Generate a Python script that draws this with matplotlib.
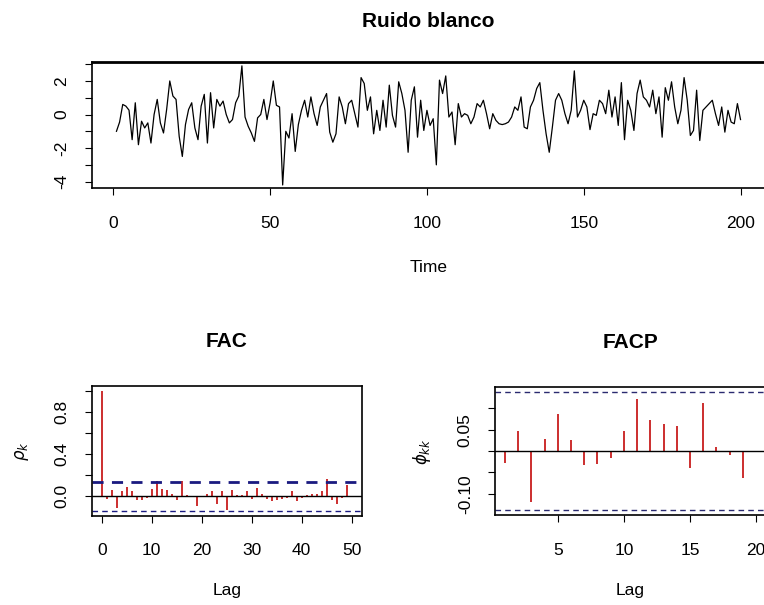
import numpy as np
import matplotlib
matplotlib.use("Agg")
import matplotlib.pyplot as plt

# ruido blanco, 200 observaciones
serie = [
    -1.0, -0.45, 0.6, 0.5, 0.26, -1.5, 0.7, -1.8, -0.4, -0.8,
    -0.5, -1.7, 0.0, 0.9, -0.5, -1.1, 0.3, 2.0, 1.1, 0.9,
    -1.3, -2.5, -0.6, 0.3, 0.7, -0.8, -1.5, 0.5, 1.2, -1.7,
    1.3, -0.8, 0.9, 0.5, 0.8, 0.0, -0.5, -0.3, 0.7, 1.1,
    2.9, -0.15, -0.7, -1.1, -1.6, -0.2, 0.0, 0.9, -0.3, 0.7,
    2.0, 0.55, 0.45, -4.2, -1.0, -1.4, 0.05, -2.2, -0.6, 0.25,
    0.85, -0.15, 1.05, 0.05, -0.65, 0.45, 0.85, 1.25, -1.05, -1.65,
    -1.15, 1.05, 0.45, -0.55, 0.65, 0.85, 0.05, -0.75, 2.2, 1.85,
    0.25, 1.05, -1.15, 0.25, -0.95, 0.85, -0.75, 1.75, -0.05, -0.75,
    1.95, 1.25, 0.25, -2.25, 0.85, 1.65, -1.35, 0.85, -0.95, 0.25,
    -0.65, -0.25, -3.0, 2.05, 1.25, 2.3, -0.15, 0.15, -1.8, 0.65,
    -0.15, 0.05, -0.05, -0.55, -0.15, 0.65, 0.45, 0.85, 0.05, -0.85,
    0.05, -0.35, -0.55, -0.6, -0.55, -0.45, -0.15, 0.45, 0.25, 1.05,
    -0.75, -0.85, 0.45, 0.85, 1.55, 1.9, 0.25, -1.15, -2.25, -0.75,
    0.85, 1.25, 0.85, 0.05, -0.55, 0.25, 2.6, -0.15, 0.25, 0.85,
    0.45, -0.9, 0.05, -0.05, 0.85, 0.65, 0.05, 1.45, -0.15, 1.05,
    -0.65, 1.9, -1.5, 0.85, 0.25, -0.95, 1.25, 2.05, 1.05, 0.85,
    0.45, 1.45, 0.05, 1.05, -1.35, 1.6, 0.85, 1.95, 0.45, -0.55,
    0.25, 2.2, 0.85, -1.25, -0.95, 1.45, -1.55, 0.25, 0.45, 0.65,
    0.85, 0.05, -0.65, 0.45, -1.05, 0.25, -0.45, -0.55, 0.65, -0.3,
]
tiempo = np.arange(1, len(serie) + 1)

# funcion de autocorrelacion, retardos 0..50
fac = [
    1.0, -0.025, 0.063, -0.117, 0.048, 0.083, 0.05, -0.038, -0.038, -0.022,
    0.067, 0.143, 0.067, 0.063, 0.025, -0.038, 0.143, 0.015, 0.0, -0.095,
    -0.005, 0.025, 0.05, -0.076, 0.05, -0.133, 0.063, 0.015, 0.015, 0.05,
    -0.03, 0.073, 0.025, -0.03, -0.048, -0.038, -0.025, -0.016, 0.05, -0.048,
    -0.02, 0.01, 0.02, 0.025, 0.05, 0.159, -0.038, -0.07, -0.022, 0.105,
    -0.005,
]
lags_fac = np.arange(len(fac))

# funcion de autocorrelacion parcial, retardos 1..20
facp = [
    -0.027, 0.048, -0.119, 0.028, 0.087, 0.025, -0.032, -0.029, -0.015, 0.048,
    0.122, 0.073, 0.064, 0.059, -0.040, 0.112, 0.009, -0.010, -0.063, -0.002,
]
lags_facp = np.arange(1, len(facp) + 1)

banda = 1.96 / np.sqrt(len(serie))

plt.rcParams['font.family'] = ['Liberation Sans', 'DejaVu Sans']
plt.rcParams['font.size'] = 12.5
plt.rcParams['xtick.major.size'] = 5
plt.rcParams['ytick.major.size'] = 5
plt.rcParams['xtick.major.pad'] = 15
plt.rcParams['ytick.major.pad'] = 11

W, H = 764, 605
fig = plt.figure(figsize=(W / 100, H / 100), dpi=100)


def caja(l, r, t, b):
    return fig.add_axes([l / W, 1 - b / H, (r - l) / W, (b - t) / H])


def ylabels_rotados(ax):
    for lab in ax.get_yticklabels():
        lab.set_rotation(90)
        lab.set_va('center')


# --- serie ---
ax1 = caja(91.5, 765.5, 62, 188)
ax1.plot(tiempo, serie, color='black', lw=0.9)
ax1.set_xlim(1 - 0.04 * 199, 200 + 0.04 * 199)
ax1.set_ylim(-4.38, 3.13)
ax1.set_xticks([0, 50, 100, 150, 200])
ax1.set_yticks(range(-4, 4))
ax1.set_yticklabels([str(v) if v % 2 == 0 else '' for v in range(-4, 4)])
ylabels_rotados(ax1)
ax1.set_title('Ruido blanco', fontsize=15, fontweight='bold', pad=25)
ax1.set_xlabel('Time', fontsize=12.5)
ax1.xaxis.set_label_coords(0.5, -0.57)
ax1.xaxis.label.set_va('top')

# --- FAC ---
ax2 = caja(91.7, 361.7, 386, 515.7)
ax2.vlines(lags_fac, 0, fac, color='#c81e1e', lw=1.3)
ax2.axhline(0, color='black', lw=1)
ax2.axhline(banda, color='#1a1a80', lw=2, ls=(0, (4, 3)))
ax2.axhline(-banda, color='#1a1a80', lw=1, ls=(0, (4, 3)))
ax2.set_xlim(-2, 52)
ax2.set_ylim(-0.1856, 1.0456)
ax2.set_xticks(range(0, 51, 10))
ax2.set_yticks([0, 0.2, 0.4, 0.6, 0.8, 1.0])
ax2.set_yticklabels(['0.0', '', '0.4', '', '0.8', ''])
ylabels_rotados(ax2)
ax2.set_title('FAC', fontsize=15, fontweight='bold', pad=28)
ax2.set_xlabel('Lag')
ax2.xaxis.set_label_coords(0.5, -0.52)
ax2.xaxis.label.set_va('top')
ax2.set_ylabel(r'$\rho_k$', fontsize=12)
ax2.yaxis.set_label_coords(-0.225, 0.5)

# --- FACP ---
ax3 = caja(495, 766, 387.3, 515)
ax3.vlines(lags_facp, 0, facp, color='#c81e1e', lw=1.3)
ax3.axhline(0, color='black', lw=1)
ax3.axhline(banda, color='#2a2a70', lw=1, ls=(0, (4, 3)))
ax3.axhline(-banda, color='#2a2a70', lw=1, ls=(0, (4, 3)))
ax3.set_xlim(1 - 0.04 * 19, 20 + 0.04 * 19)
ax3.set_ylim(-0.1497, 0.1497)
ax3.set_xticks([5, 10, 15, 20])
ax3.set_yticks([-0.10, -0.05, 0, 0.05, 0.10])
ax3.set_yticklabels(['-0.10', '', '', '0.05', ''])
ylabels_rotados(ax3)
ax3.set_title('FACP', fontsize=15, fontweight='bold', pad=28)
ax3.set_xlabel('Lag')
ax3.xaxis.set_label_coords(0.5, -0.53)
ax3.xaxis.label.set_va('top')
ax3.set_ylabel(r'$\phi_{kk}$', fontsize=12)
ax3.yaxis.set_label_coords(-0.23, 0.5)

for ax in (ax1, ax2, ax3):
    for s in ax.spines.values():
        s.set_linewidth(1.2)
ax1.spines['top'].set_linewidth(2)

fig.savefig('out.png', dpi=100)
